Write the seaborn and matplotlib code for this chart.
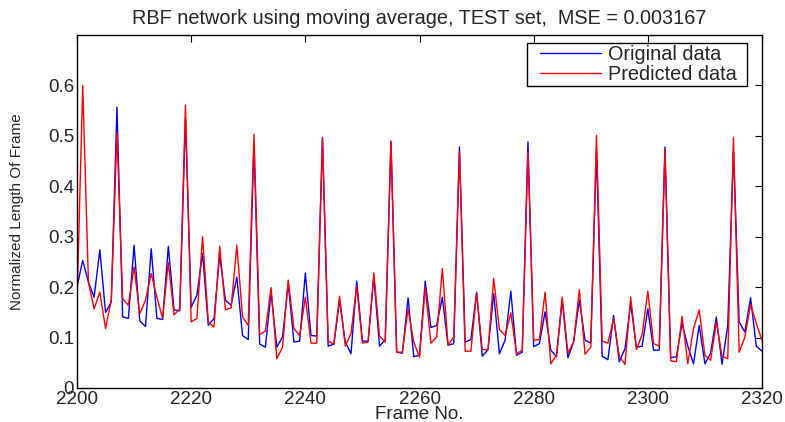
import matplotlib
matplotlib.use("Agg")
import matplotlib.pyplot as plt
import seaborn as sns
import pandas as pd
from matplotlib.patches import Rectangle
from matplotlib.transforms import IdentityTransform

frames = list(range(2200, 2321))

original = [0.200, 0.253, 0.210, 0.180, 0.274, 0.150, 0.170, 0.557, 0.141, 0.138,
            0.283, 0.133, 0.122, 0.276, 0.138, 0.136, 0.281, 0.155, 0.153, 0.535,
            0.160, 0.184, 0.267, 0.124, 0.138, 0.263, 0.174, 0.164, 0.220, 0.104,
            0.096, 0.485, 0.087, 0.081, 0.190, 0.081, 0.101, 0.207, 0.091, 0.093,
            0.228, 0.104, 0.103, 0.497, 0.083, 0.087, 0.174, 0.091, 0.068, 0.212,
            0.093, 0.093, 0.220, 0.083, 0.096, 0.488, 0.071, 0.069, 0.179, 0.062,
            0.065, 0.212, 0.120, 0.124, 0.180, 0.085, 0.088, 0.478, 0.091, 0.096,
            0.190, 0.063, 0.076, 0.187, 0.068, 0.095, 0.192, 0.065, 0.071, 0.488,
            0.082, 0.088, 0.151, 0.075, 0.062, 0.174, 0.060, 0.091, 0.174, 0.095,
            0.089, 0.470, 0.063, 0.056, 0.144, 0.052, 0.078, 0.167, 0.081, 0.083,
            0.157, 0.075, 0.075, 0.478, 0.060, 0.062, 0.128, 0.083, 0.048, 0.124,
            0.048, 0.069, 0.141, 0.047, 0.124, 0.470, 0.131, 0.111, 0.179, 0.083,
            0.073]

predicted = [0.167, 0.600, 0.210, 0.157, 0.190, 0.118, 0.174, 0.506, 0.177, 0.164,
             0.240, 0.147, 0.174, 0.227, 0.180, 0.138, 0.249, 0.145, 0.157, 0.561,
             0.131, 0.138, 0.300, 0.131, 0.121, 0.281, 0.155, 0.159, 0.283, 0.141,
             0.124, 0.503, 0.106, 0.113, 0.199, 0.058, 0.081, 0.214, 0.118, 0.104,
             0.180, 0.089, 0.089, 0.495, 0.093, 0.087, 0.182, 0.083, 0.108, 0.202,
             0.089, 0.091, 0.228, 0.103, 0.091, 0.490, 0.071, 0.071, 0.157, 0.091,
             0.061, 0.200, 0.089, 0.101, 0.237, 0.085, 0.101, 0.468, 0.073, 0.073,
             0.188, 0.076, 0.076, 0.217, 0.116, 0.104, 0.149, 0.068, 0.075, 0.468,
             0.095, 0.096, 0.190, 0.048, 0.065, 0.180, 0.069, 0.091, 0.195, 0.067,
             0.081, 0.501, 0.093, 0.089, 0.138, 0.063, 0.047, 0.180, 0.076, 0.106,
             0.192, 0.088, 0.083, 0.473, 0.054, 0.052, 0.142, 0.048, 0.118, 0.155,
             0.065, 0.055, 0.131, 0.063, 0.058, 0.497, 0.071, 0.101, 0.166, 0.128,
             0.095]

df = pd.DataFrame({
    'Frame No.': frames * 2,
    'value': original + predicted,
    'series': ['Original data'] * len(frames) + ['Predicted data'] * len(frames),
})

sns.set_style("white")
plt.rcParams['font.family'] = ['Liberation Sans', 'DejaVu Sans']

fig = plt.figure(figsize=(7.85, 4.22), dpi=100)
ax = fig.add_axes([77 / 785, 1 - 388 / 422, 685 / 785, 353 / 422])

sns.lineplot(data=df, x='Frame No.', y='value', hue='series',
             palette={'Original data': 'blue', 'Predicted data': 'red'},
             linewidth=1.0, ax=ax)

ax.set_xlim(2200, 2320)
ax.set_ylim(0, 0.7)
ax.set_xticks(range(2200, 2321, 20))
ax.set_yticks([0, 0.1, 0.2, 0.3, 0.4, 0.5, 0.6])
ax.set_yticklabels(['0', '0.1', '0.2', '0.3', '0.4', '0.5', '0.6'])
ax.tick_params(direction='in', top=True, right=True, length=5, width=0.8,
               labelsize=13.5, color='black', pad=2)
for s in ax.spines.values():
    s.set_color('black')
    s.set_linewidth(1.0)

ax.set_xlabel('Frame No.', fontsize=13.5, labelpad=-1)
ax.set_ylabel('Normalized Length Of Frame', fontsize=11, labelpad=17)
ax.set_title('RBF network using moving average, TEST set,  MSE = 0.003167',
             fontsize=14.3, pad=8)

# legend text/handles, frame drawn separately so it can have MATLAB-like padding
handles, labels = ax.get_legend_handles_labels()
leg = ax.legend(handles, labels, loc='upper right', fontsize=14.3, frameon=False,
                handlelength=3.1, borderpad=0.1, labelspacing=0.05,
                handletextpad=0.35, borderaxespad=0,
                bbox_to_anchor=((739 - 77) / 685, (388 - 43) / 353))

fig.canvas.draw()
bb = leg.get_window_extent()
fig.patches.append(Rectangle((bb.x0 - 11, bb.y0), bb.width + 19, bb.height,
                             fill=False, edgecolor='black', linewidth=1.0,
                             transform=IdentityTransform(), figure=fig))

fig.savefig('out.png', dpi=100)
